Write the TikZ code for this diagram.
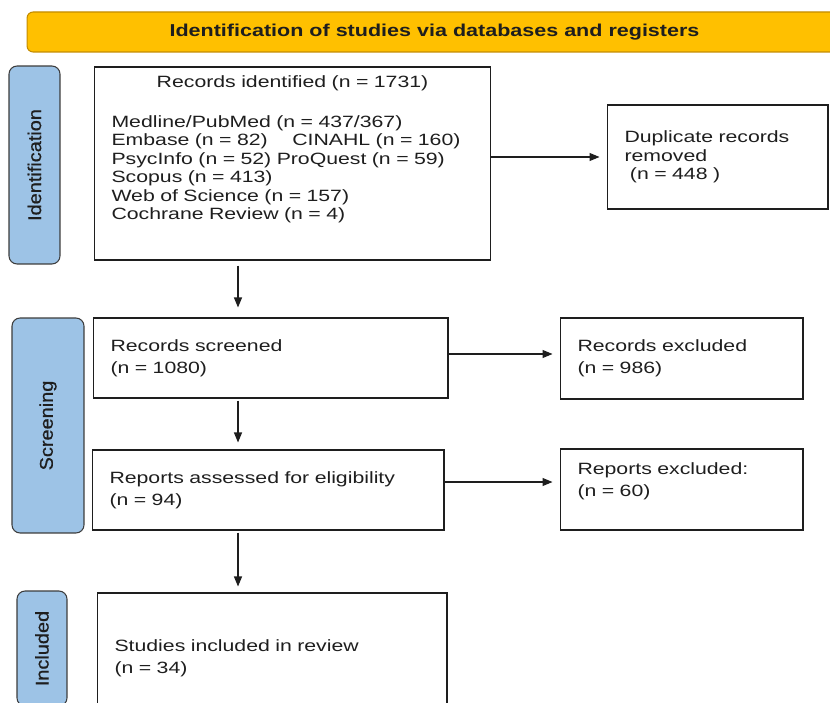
\documentclass[tikz,border=0pt]{standalone}
\usepackage{fontspec}
\setmainfont{Liberation Sans}[FakeStretch=1.3]
\newfontfamily\sidefont{Liberation Sans}[FakeStretch=1.08, FakeBold=0.6]
\newfontfamily\bannerfont{Liberation Sans}[FakeStretch=1.25]
\usetikzlibrary{arrows.meta}
\definecolor{band}{RGB}{255, 192, 0}
\definecolor{bandline}{RGB}{196, 140, 0}
\definecolor{phase}{RGB}{157, 195, 230}
\definecolor{phaseline}{RGB}{60, 60, 60}
\definecolor{ink}{RGB}{30, 30, 30}

\begin{document}
\begin{tikzpicture}[x=0.02cm, y=-0.02cm,
    box/.style={draw=ink, line width=0.6pt, rectangle, align=left, inner xsep=0.35cm, inner ysep=0pt, font=\fontsize{9.3}{10.5}\selectfont, text=ink},
    phasebox/.style={draw=phaseline, fill=phase, line width=0.6pt, rounded corners=0.16cm, rotate=90, font=\sidefont\fontsize{10.5}{12}\selectfont, text=ink},
    arr/.style={-{Triangle[length=0.2cm, width=0.16cm]}, line width=0.6pt, draw=ink}]
    \useasboundingbox (0, 0) rectangle (830, 702);
    % banner
    \node[draw=bandline, fill=band, rounded corners=0.12cm, line width=0.6pt, minimum width=16.3cm, minimum height=0.8cm, font=\bannerfont\bfseries\fontsize{9.8}{12}\selectfont, text=ink] (banner) at (434.5, 32) {Identification of studies via databases and registers};
    % phases
    \node[phasebox, minimum width=3.96cm, minimum height=1.02cm] (idphase) at (34.5, 165) {Identification};
    \node[phasebox, minimum width=4.3cm, minimum height=1.44cm] (scphase) at (48, 425.5) {Screening};
    \node[phasebox, minimum width=2.3cm, minimum height=1.0cm] (inphase) at (42, 648.5) {Included};
    % boxes
    \node[box, text width=7.24cm, minimum height=3.86cm] (ident) at (292.5, 163.5) {\makebox[7.24cm]{Records identified (n = 1731)}\\[12.3pt]
        Medline/PubMed (n = 437/367)\\
        Embase (n = 82)\hspace{14pt}CINAHL (n = 160)\\
        PsycInfo (n = 52) ProQuest (n = 59)\\
        Scopus (n = 413)\\
        Web of Science (n = 157)\\
        Cochrane Review (n = 4)\\[7.7pt]\mbox{}};
    \node[box, text width=3.72cm, minimum height=2.08cm] (dup) at (717.5, 157) {Duplicate records\\ removed\\ \mbox{} (n = 448 )};
    \node[box, text width=6.4cm, minimum height=1.6cm] (screened) at (270.5, 358) {Records screened\\[2pt] (n = 1080)};
    \node[box, text width=4.16cm, minimum height=1.62cm] (recexcl) at (681.5, 358.5) {Records excluded\\[2pt] (n = 986)};
    \node[box, text width=6.34cm, minimum height=1.6cm] (assessed) at (268, 490) {Reports assessed for eligibility\\[2pt] (n = 94)};
    \node[box, text width=4.16cm, minimum height=1.62cm] (repexcl) at (681.5, 489.5) {Reports excluded:\\[2pt] (n = 60)\\[1pt]\mbox{}};
    \node[box, text width=6.3cm, minimum height=2.6cm] (incl) at (272, 658) {Studies included in review\\[2pt] (n = 34)};
    % arrows
    \coordinate (spine) at (238, 0);
    \draw[arr, shorten <=0.1cm, shorten >=0.2cm] (ident.south -| spine) -- (screened.north -| spine);
    \draw[arr, shorten <=0.04cm, shorten >=0.14cm] (screened.south -| spine) -- (assessed.north -| spine);
    \draw[arr, shorten <=0.04cm, shorten >=0.12cm] (assessed.south -| spine) -- (incl.north -| spine);
    \draw[arr, shorten >=0.14cm] (ident.east |- dup.west) -- (dup.west);
    \draw[arr, shorten >=0.14cm] ([yshift=0.08cm]screened.east) -- ([yshift=0.08cm]screened.east -| recexcl.west);
    \draw[arr, shorten >=0.14cm] ([yshift=0.16cm]assessed.east) -- ([yshift=0.16cm]assessed.east -| repexcl.west);
\end{tikzpicture}
\end{document}
